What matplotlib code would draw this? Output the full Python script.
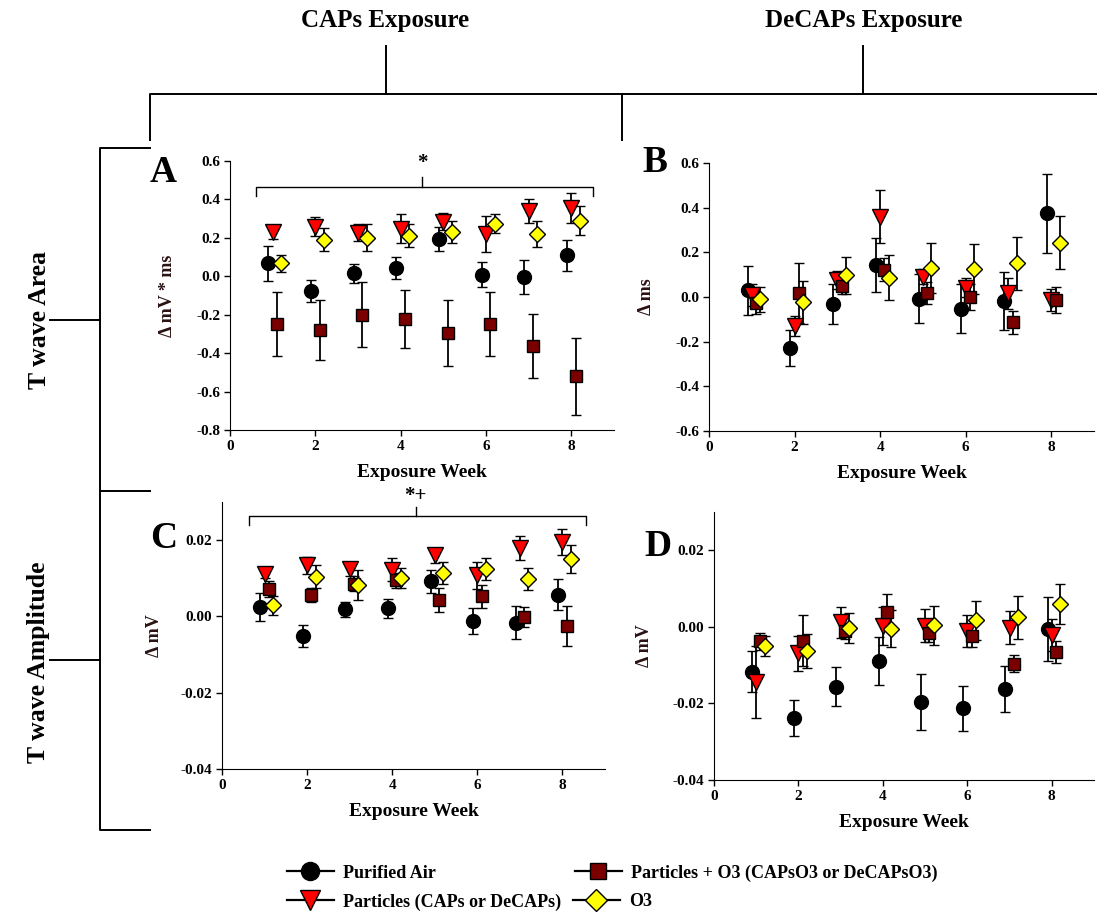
import numpy as np
import matplotlib.pyplot as plt
from matplotlib.lines import Line2D

plt.rcParams['font.family'] = ['Liberation Serif', 'DejaVu Serif']
plt.rcParams['font.weight'] = 'bold'

W, H = 1097, 915

weeks = np.arange(1, 9)
series_names = ['Purified Air', 'Particles (CAPs or DeCAPs)',
                'Particles + O3 (CAPsO3 or DeCAPsO3)', 'O3']

# Panel A: T wave area, CAPs
a_air = [0.068, -0.078, 0.016, 0.043, 0.194, 0.009, -0.002, 0.109]
a_air_err = [0.09, 0.057, 0.05, 0.056, 0.063, 0.066, 0.088, 0.08]
a_part = [0.229, 0.259, 0.227, 0.247, 0.285, 0.22, 0.339, 0.356]
a_part_err = [0.033, 0.05, 0.045, 0.075, 0.045, 0.092, 0.062, 0.078]
a_po3 = [-0.248, -0.28, -0.2, -0.222, -0.295, -0.248, -0.363, -0.521]
a_po3_err = [0.165, 0.155, 0.168, 0.15, 0.17, 0.165, 0.165, 0.2]
a_o3 = [0.068, 0.191, 0.2, 0.212, 0.229, 0.273, 0.219, 0.29]
a_o3_err = [0.045, 0.06, 0.07, 0.058, 0.057, 0.05, 0.068, 0.076]

# Panel B: T wave area, DeCAPs
b_air = [0.031, -0.227, -0.03, 0.143, -0.007, -0.052, -0.018, 0.375]
b_air_err = [0.11, 0.08, 0.09, 0.12, 0.11, 0.11, 0.128, 0.177]
b_part = [0.01, -0.128, 0.076, 0.36, 0.091, 0.042, 0.016, -0.013]
b_part_err = [0.05, 0.045, 0.04, 0.12, 0.035, 0.042, 0.07, 0.05]
b_po3 = [-0.028, 0.019, 0.049, 0.123, 0.018, -0.001, -0.114, -0.013]
b_po3_err = [0.05, 0.135, 0.035, 0.05, 0.05, 0.058, 0.05, 0.057]
b_o3 = [-0.01, -0.024, 0.097, 0.087, 0.13, 0.127, 0.151, 0.244]
b_o3_err = [0.055, 0.095, 0.083, 0.1, 0.11, 0.112, 0.118, 0.12]

# Panel C: T wave amplitude, CAPs
c_air = [0.0025, -0.0051, 0.0019, 0.0021, 0.0092, -0.0011, -0.0016, 0.0057]
c_air_err = [0.0037, 0.0029, 0.002, 0.0025, 0.003, 0.0034, 0.0043, 0.004]
c_part = [0.0112, 0.0134, 0.0124, 0.0123, 0.016, 0.0108, 0.0179, 0.0195]
c_part_err = [0.0012, 0.0023, 0.0017, 0.003, 0.0019, 0.0035, 0.0032, 0.0034]
c_po3 = [0.0072, 0.0056, 0.0086, 0.0095, 0.0043, 0.0053, -0.0002, -0.0025]
c_po3_err = [0.002, 0.0018, 0.002, 0.002, 0.0032, 0.003, 0.0027, 0.0053]
c_o3 = [0.0029, 0.0104, 0.0082, 0.0101, 0.0114, 0.0124, 0.0098, 0.015]
c_o3_err = [0.0025, 0.003, 0.0039, 0.0026, 0.003, 0.0028, 0.0029, 0.0036]

# Panel D: T wave amplitude, DeCAPs
d_air = [-0.0117, -0.0237, -0.0156, -0.0089, -0.0197, -0.0213, -0.0162, -0.0006]
d_air_err = [0.0053, 0.0047, 0.0052, 0.0063, 0.0073, 0.0058, 0.0061, 0.0083]
d_part = [-0.0145, -0.0069, 0.0012, 0.0003, 0.0003, -0.0011, -0.0002, -0.0022]
d_part_err = [0.0094, 0.0045, 0.004, 0.005, 0.0043, 0.0041, 0.0043, 0.0042]
d_po3 = [-0.0038, -0.0036, -0.0012, 0.004, -0.0017, -0.0025, -0.0096, -0.0066]
d_po3_err = [0.0023, 0.0067, 0.002, 0.0046, 0.0022, 0.0028, 0.0023, 0.0028]
d_o3 = [-0.0051, -0.0063, -0.0003, -0.0005, 0.0004, 0.0017, 0.0025, 0.006]
d_o3_err = [0.0026, 0.0045, 0.004, 0.0048, 0.0051, 0.0051, 0.0056, 0.0053]

# marker, face colour, size, x offset
styles = [('o', 'black', 10, -0.1),
          ('v', '#ff0000', 11, 0.0),
          ('s', '#7a0000', 9, 0.1),
          ('D', '#ffff00', 8.5, 0.2)]


def px(x, y):
    return x / W, 1 - y / H


fig = plt.figure(figsize=(W / 100, H / 100), dpi=100)


def make_ax(l, t, r, b):
    ax = fig.add_axes([l / W, 1 - b / H, (r - l) / W, (b - t) / H])
    for s in ['top', 'right']:
        ax.spines[s].set_visible(False)
    ax.tick_params(direction='out', length=4, width=1, labelsize=11, pad=3)
    return ax


def draw(ax, data, ylim, yticks, fmt, ylabel, lab_x):
    for (m, fc, ms, dx), (vals, errs) in zip(styles, data):
        ax.errorbar(weeks + dx, vals, yerr=errs, fmt=m, mfc=fc, mec='black',
                    mew=1, ms=ms, ecolor='black', elinewidth=1.3, capsize=3.5,
                    capthick=1.3, clip_on=False)
    ax.set_xlim(0, 9)
    ax.set_ylim(*ylim)
    ax.set_xticks([0, 2, 4, 6, 8])
    ax.set_yticks(yticks)
    ax.set_yticklabels([fmt.format(v).replace('-0.0', '0.0') if abs(v) < 1e-9 else fmt.format(v)
                        for v in yticks], fontweight='bold')
    ax.set_xticklabels(['0', '2', '4', '6', '8'], fontweight='bold')
    ax.set_xlabel('Exposure Week', fontsize=14, fontweight='bold', labelpad=8)
    ax.set_ylabel(ylabel, fontsize=13, fontweight='bold', color='#2a1212')
    ax.yaxis.set_label_coords(lab_x, 0.5)


axA = make_ax(230, 161, 614, 430)
draw(axA, [(a_air, a_air_err), (a_part, a_part_err), (a_po3, a_po3_err), (a_o3, a_o3_err)],
     (-0.8, 0.6), np.arange(-0.8, 0.61, 0.2), '{:.1f}', 'Δ mV * ms', -0.14)
axB = make_ax(709, 163, 1094, 431)
draw(axB, [(b_air, b_air_err), (b_part, b_part_err), (b_po3, b_po3_err), (b_o3, b_o3_err)],
     (-0.6, 0.6), np.arange(-0.6, 0.61, 0.2), '{:.1f}', 'Δ ms', -0.14)
axC = make_ax(222, 502, 605, 769)
draw(axC, [(c_air, c_air_err), (c_part, c_part_err), (c_po3, c_po3_err), (c_o3, c_o3_err)],
     (-0.04, 0.03), [-0.04, -0.02, 0.0, 0.02], '{:.2f}', 'Δ mV', -0.155)
axD = make_ax(714, 512, 1094, 780)
draw(axD, [(d_air, d_air_err), (d_part, d_part_err), (d_po3, d_po3_err), (d_o3, d_o3_err)],
     (-0.04, 0.03), [-0.04, -0.02, 0.0, 0.02], '{:.2f}', 'Δ mV', -0.16)


# significance brackets
def bracket(ax, x0, x1, xm, y, drop, rise, label, ly):
    kw = dict(color='black', lw=1, clip_on=False)
    ax.plot([x0, x0, x1, x1], [y - drop, y, y, y - drop], **kw)
    ax.plot([xm, xm], [y, y + rise], **kw)
    ax.text(xm, ly, label, ha='center', va='center', fontsize=15, clip_on=False)


bracket(axA, 0.6, 8.5, 4.5, 0.465, 0.045, 0.05, '*', 0.59)
bracket(axC, 0.63, 8.55, 4.55, 0.0262, 0.0023, 0.0025, '*+', 0.0316)

# panel letters
for lbl, (x, y) in zip('ABCD', [(163, 173), (655, 163), (164, 539), (658, 547)]):
    fig.text(*px(x, y), lbl, fontsize=27, fontweight='bold', ha='center', va='center')

# header bracket
fig.text(*px(385, 20), 'CAPs Exposure', fontsize=18, fontweight='bold', ha='center', va='center')
fig.text(*px(864, 20), 'DeCAPs Exposure', fontsize=18, fontweight='bold', ha='center', va='center')
frame_lines = [
    [(386, 46), (386, 94)],
    [(863, 46), (863, 94)],
    [(150, 140), (150, 94), (1097, 94)],
    [(622, 94), (622, 140)],
    [(150, 148), (100, 148), (100, 830), (150, 830)],
    [(100, 491), (150, 491)],
    [(50, 320), (100, 320)],
    [(50, 660), (100, 660)],
]
for pts in frame_lines:
    xs, ys = zip(*[px(x, y) for x, y in pts])
    fig.add_artist(Line2D(xs, ys, color='black', lw=1.4, transform=fig.transFigure))

fig.text(*px(39, 320), 'T wave Area', fontsize=18.5, fontweight='bold', rotation=90,
         ha='center', va='center')
fig.text(*px(39, 662), 'T wave Amplitude', fontsize=18.5, fontweight='bold', rotation=90,
         ha='center', va='center')

# legend, four single entries placed like the original
leg_pos = [(287, 873), (287, 902), (575, 873), (573, 902)]
for (m, fc, ms, dx), name, (x, y) in zip(styles, series_names, leg_pos):
    h = Line2D([], [], color='black', lw=1.6, marker=m, mfc=fc, mec='black', ms=ms + 3)
    fig.legend([h], [name], loc='center left', bbox_to_anchor=px(x, y), frameon=False,
               borderpad=0, borderaxespad=0, handlelength=2.6, handletextpad=0.5,
               prop={'size': 13, 'weight': 'bold'})

fig.savefig('out.png', dpi=100)
